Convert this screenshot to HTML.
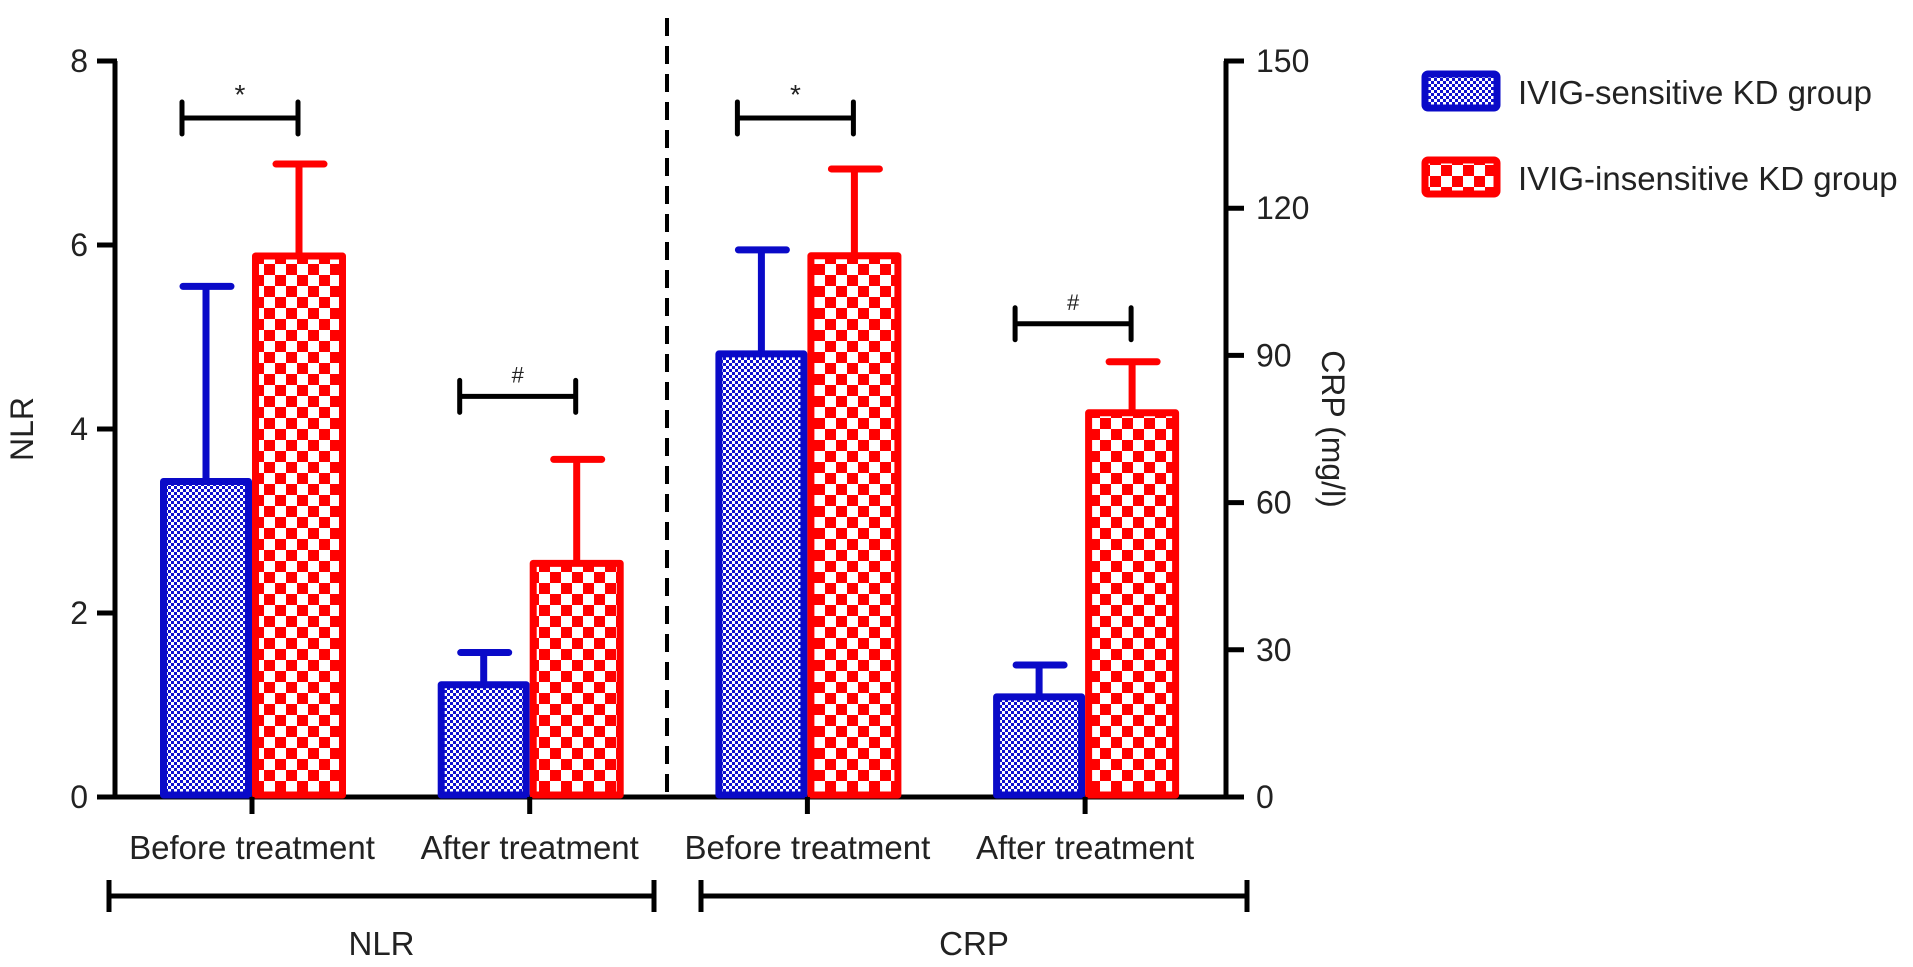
<!DOCTYPE html>
<html><head><meta charset="utf-8">
<style>
html,body{margin:0;padding:0;background:#fff;}
svg{display:block;font-family:"Liberation Sans",Arial,sans-serif;}
</style></head>
<body>
<svg id="chart" width="1913" height="967" viewBox="0 0 1913 967" xmlns="http://www.w3.org/2000/svg">
<defs>
<pattern id="pBlue" width="6" height="6" patternUnits="userSpaceOnUse">
<rect width="6" height="6" fill="#fff"/>
<rect x="0" y="0" width="3" height="3" fill="#1010d0"/>
<rect x="3" y="3" width="3" height="3" fill="#1010d0"/>
</pattern>
<pattern id="pRed" width="22" height="22" patternUnits="userSpaceOnUse">
<rect width="22" height="22" fill="#fff"/>
<rect x="0" y="0" width="11" height="11" fill="#ff0000"/>
<rect x="11" y="11" width="11" height="11" fill="#ff0000"/>
</pattern>
</defs>
<g id="marks"></g>
</svg>
<script>
const categories = ["Before treatment","After treatment","Before treatment","After treatment"];
const groupLabels = ["NLR","CRP"];
const sensitiveVals = [3.43, 1.22, 90.3, 20.4];
const sensitiveErr = [5.55, 1.57, 111.5, 26.9];
const insensitiveVals = [5.88, 2.54, 110.3, 78.3];
const insensitiveErr = [6.88, 3.67, 128, 88.7];
const leftTicks = [0,2,4,6,8];
const rightTicks = [0,30,60,90,120,150];
const sigMarks = ["*","#","*","#"];

const NS="http://www.w3.org/2000/svg";
const svg=document.getElementById('marks');
const Y0=797, YT=61;
function yL(v){return Y0-(v/8)*(Y0-YT);}
function yR(v){return Y0-(v/150)*(Y0-YT);}
function xC(i){return 252+i*277.7;}
function mk(tag,attrs,parent){const e=document.createElementNS(NS,tag);for(const k in attrs)e.setAttribute(k,attrs[k]);(parent||svg).appendChild(e);return e;}
function txt(s,attrs){const t=mk('text',attrs);t.textContent=s;return t;}
const BLUE="#0a0ac8", RED="#ff0000";

let e=mk('line',{x1:115,y1:YT,x2:115,y2:Y0,stroke:'#000','stroke-width':5});


leftTicks.forEach(v=>{
  const y=yL(v);
  let t=mk('line',{x1:97,y1:y,x2:117,y2:y,stroke:'#000','stroke-width':5});
  
  
  let l=txt(String(v),{x:88,y:y+11,'font-size':32,'text-anchor':'end',fill:'#222'});
  
  
});
e=mk('line',{x1:1226,y1:YT,x2:1226,y2:Y0,stroke:'#000','stroke-width':5});


rightTicks.forEach(v=>{
  const y=yR(v);
  let t=mk('line',{x1:1224,y1:y,x2:1244,y2:y,stroke:'#000','stroke-width':5});
  
  
  let l=txt(String(v),{x:1256,y:y+11,'font-size':32,fill:'#222'});
  
  
});
e=mk('line',{x1:97,y1:Y0,x2:1243,y2:Y0,stroke:'#000','stroke-width':5});


e=mk('line',{x1:667,y1:18,x2:667,y2:Y0,stroke:'#000','stroke-width':4,'stroke-dasharray':'18,10'});



e=txt('NLR',{x:0,y:0,'font-size':32,'text-anchor':'middle',fill:'#222',transform:'translate(33,429) rotate(-90)'});


e=txt('CRP (mg/l)',{x:0,y:0,'font-size':32,'text-anchor':'middle',fill:'#222',transform:'translate(1322,429) rotate(90)'});



function bar(x,w,val,err,scale,fill,col,name){
  const yt=scale(val), ye=scale(err), cx=x+w/2;
  let l=mk('line',{x1:cx,y1:ye,x2:cx,y2:yt,stroke:col,'stroke-width':7});
  
  
  let c=mk('line',{x1:cx-23,y1:ye,x2:cx+25,y2:ye,stroke:col,'stroke-width':7,'stroke-linecap':'round'});
  
  
  let r=mk('rect',{x:x+3.5,y:yt,width:w-7,height:Y0-yt-2,fill:'url(#'+fill+')',stroke:col,'stroke-width':7,'stroke-linejoin':'round'});
  
  
}
categories.forEach((c,i)=>{
  const cx=xC(i), sc=i<2?yL:yR;
  bar(cx-92,92,sensitiveVals[i],sensitiveErr[i],sc,'pBlue',BLUE,'bar-sensitive-'+(i+1));
  bar(cx,94,insensitiveVals[i],insensitiveErr[i],sc,'pRed',RED,'bar-insensitive-'+(i+1));
  let t=mk('line',{x1:cx,y1:Y0,x2:cx,y2:814,stroke:'#000','stroke-width':5});
  
  
  let l=txt(c,{x:cx,y:859,'font-size':33,'text-anchor':'middle',fill:'#222'});
  
  
  const top=Math.max(sensitiveErr[i],insensitiveErr[i]);
  const by=sc(top)-(i===1?63:(i===3?38:(i===2?51:46)));
  const x1=cx-70,x2=cx+46;
  let b=mk('path',{d:`M${x1},${by-16}V${by+16}M${x1},${by}H${x2}M${x2},${by-16}V${by+16}`,stroke:'#000','stroke-width':5,fill:'none','stroke-linecap':'round'});
  
  
  let s=txt(sigMarks[i],{x:(x1+x2)/2,y:by-14,'font-size':sigMarks[i]==='*'?28:22,'text-anchor':'middle',fill:'#222'});
  
  
});

[[109,654],[701,1247]].forEach((g,i)=>{
  let b=mk('path',{d:`M${g[0]},880V912M${g[0]},896H${g[1]}M${g[1]},880V912`,stroke:'#000','stroke-width':5,fill:'none'});
  
  
  let l=txt(groupLabels[i],{x:(g[0]+g[1])/2,y:955,'font-size':33,'text-anchor':'middle',fill:'#222'});
  
  
});

const legendItems=[["IVIG-sensitive KD group",'pBlue',BLUE,72],["IVIG-insensitive KD group",'pRed',RED,158]];
legendItems.forEach((it,i)=>{
  let r=mk('rect',{x:1425,y:it[3]+2,width:72,height:34,rx:3,fill:'url(#'+it[1]+')',stroke:it[2],'stroke-width':7});
  
  
  let l=txt(it[0],{x:1518,y:it[3]+32,'font-size':33,fill:'#222'});
  
  
});
</script>
</body></html>
